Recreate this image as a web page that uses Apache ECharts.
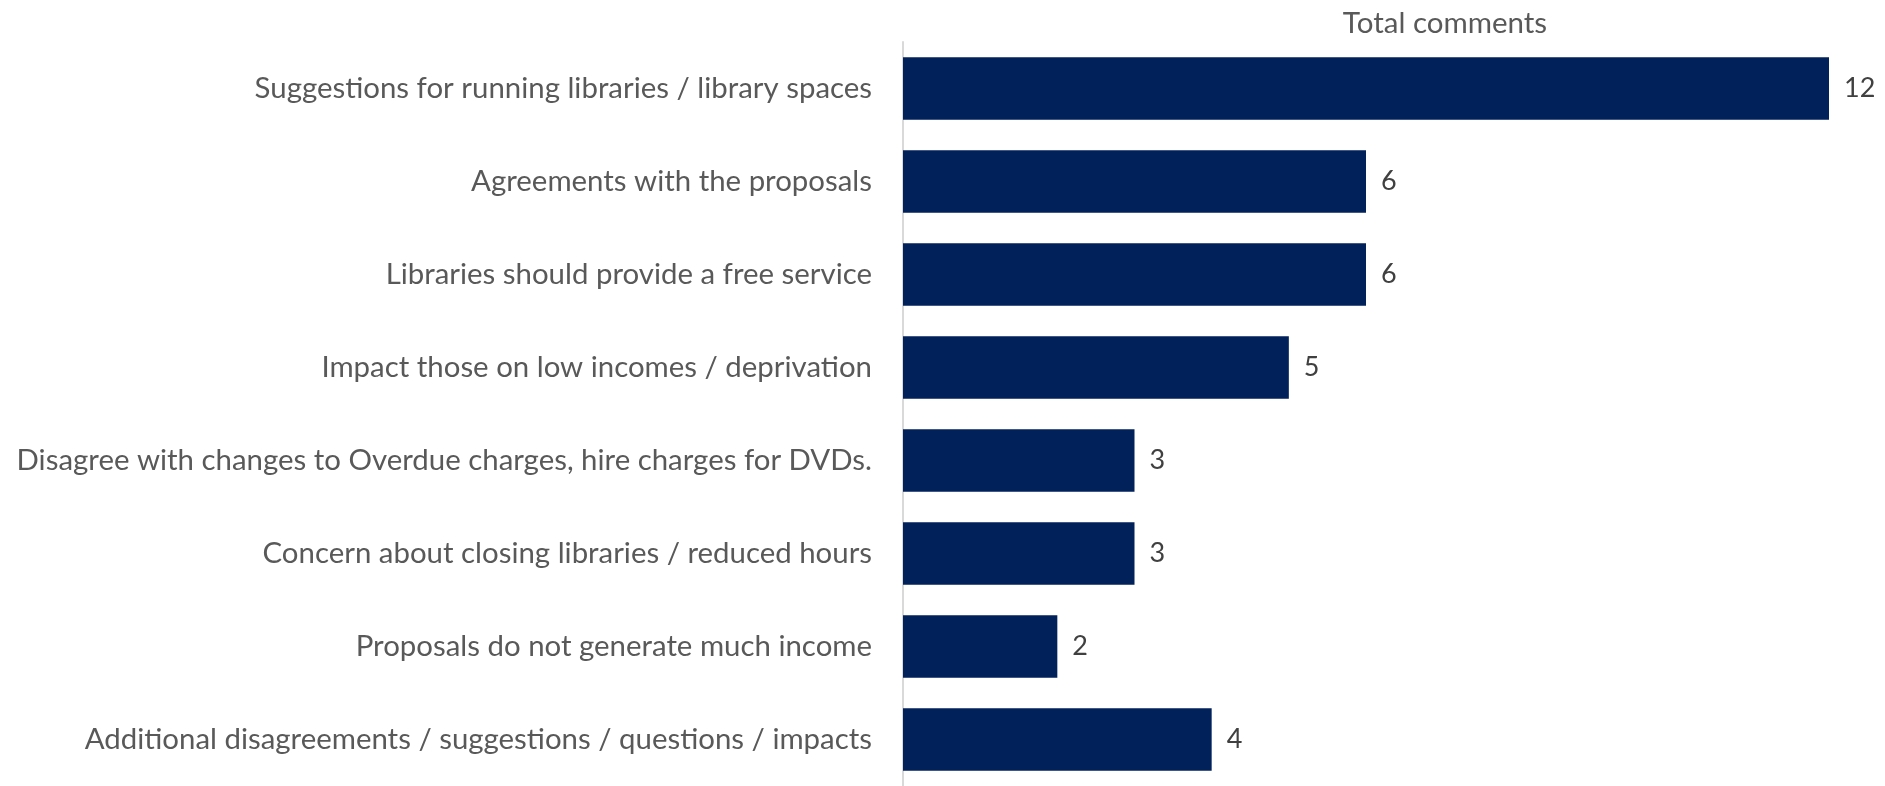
<!DOCTYPE html>
<html>
<head>
<meta charset="utf-8">
<script src="https://cdn.jsdelivr.net/npm/echarts@6/dist/echarts.min.js"></script>
<style>html,body{margin:0;padding:0;background:#fff;}#c{width:1885px;height:786px;}</style>
</head>
<body>
<div id="c"></div>
<script>
const categories = [
  "Suggestions for running libraries / library spaces",
  "Agreements with the proposals",
  "Libraries should provide a free service",
  "Impact those on low incomes / deprivation",
  "Disagree with changes to Overdue charges, hire charges for DVDs.",
  "Concern about closing libraries / reduced hours",
  "Proposals do not generate much income",
  "Additional disagreements / suggestions / questions / impacts"
];
const totalComments = [12, 6, 6, 5, 3, 3, 2, 4];
const seriesName = "Total comments";

const chart = echarts.init(document.getElementById('c'), null, {renderer: 'canvas'});
const FONT = 'Lato, "Open Sans", sans-serif';
chart.setOption({
  animation: false,
  backgroundColor: '#ffffff',
  title: {
    text: seriesName,
    left: 1440, top: 3,
    textAlign: 'center',
    textStyle: {fontFamily: FONT, fontSize: 29.5, fontWeight: 'normal', color: '#595959'}
  },
  grid: {left: 903, right: 56, top: 42, height: 752, containLabel: false},
  xAxis: {
    type: 'value', min: 0, max: 12,
    show: false
  },
  yAxis: {
    type: 'category',
    data: categories,
    inverse: true,
    axisLine: {show: true, lineStyle: {color: '#d9d9d9', width: 2}},
    axisTick: {show: false},
    splitLine: {show: false},
    axisLabel: {fontFamily: FONT, fontSize: 29.4, color: '#595959', margin: 31}
  },
  series: [{
    name: seriesName,
    type: 'bar',
    data: totalComments,
    barCategoryGap: '33%',
    itemStyle: {color: '#00215A'},
    label: {show: true, position: 'right', distance: 15, fontFamily: FONT, fontSize: 27, color: '#404040'}
  }]
});
</script>
</body>
</html>
